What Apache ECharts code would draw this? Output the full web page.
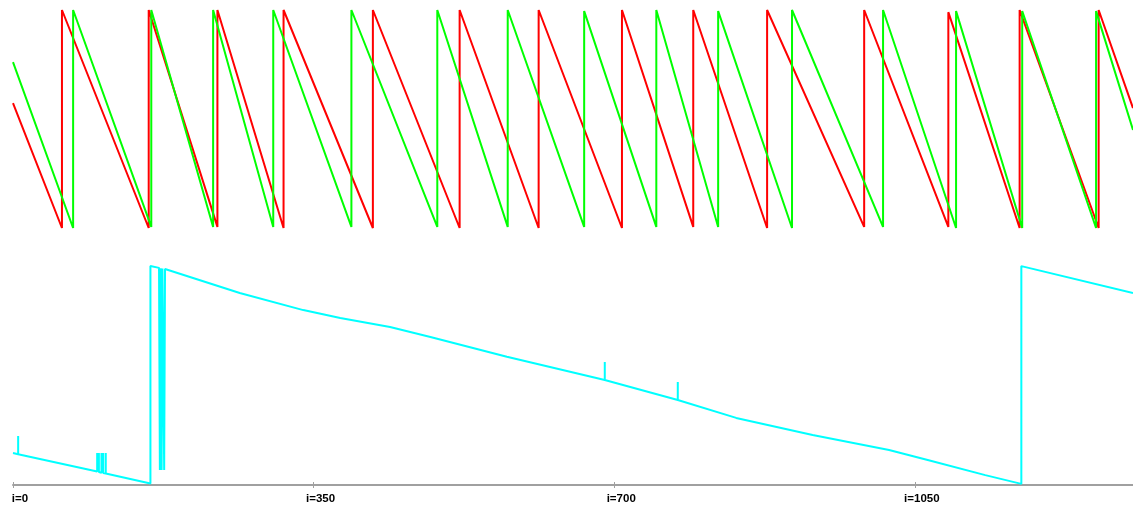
<!DOCTYPE html>
<html><head><meta charset="utf-8">
<script src="https://cdn.jsdelivr.net/npm/echarts@6/dist/echarts.min.js"></script>
<style>html,body{margin:0;padding:0;background:#fff}#c{width:1133px;height:506px}</style>
</head><body><div id="c"></div>
<script>
const xMax = 1304;
const xTicks = [0, 350, 700, 1050];
const tickLabels = ['i=0', 'i=350', 'i=700', 'i=1050'];

const redI = [0, 57, 57, 158, 158, 238, 238, 315, 315, 419, 419, 520, 520, 612, 612, 709, 709, 792, 792, 878, 878, 991, 991, 1089, 1089, 1172, 1172, 1264, 1264, 1304];
const redV = [57.3, 0, 100, 0, 100, 0.5, 100, 0, 100, 0, 100, 0, 100, 0, 100, 0, 100, 0.5, 100, 0, 100, 0.5, 100, 0.5, 99, 0, 100, 0, 100, 55];

const greenI = [0, 70, 70, 161, 161, 233, 233, 303, 303, 394, 394, 494, 494, 576, 576, 665, 665, 749, 749, 821, 821, 907, 907, 1013, 1013, 1098, 1098, 1175, 1175, 1261, 1261, 1304];
const greenV = [76.1, 0, 100, 0.5, 100, 0.5, 100, 0.5, 100, 0.5, 100, 0.5, 100, 0.5, 100, 0.5, 99.5, 0.5, 100, 0.5, 99.5, 0, 100, 0.5, 100, 0, 99.5, 0, 99.5, 0, 99.5, 45];

const cyanI = [0, 6, 6, 6, 98, 98, 98, 100, 100, 100, 103, 103, 103, 105, 105, 105, 108, 108, 108, 160, 160, 170, 171, 171, 172, 172, 173, 173, 174, 174, 176, 176, 177, 177, 179, 264, 338, 381, 439, 486, 575, 689, 689, 689, 774, 774, 774, 842, 931, 1020, 1065, 1132, 1174, 1174, 1304];
const cyanV = [14.5, 14.0, 22.3, 14.0, 6.1, 14.5, 6.1, 5.9, 14.5, 5.9, 5.6, 14.5, 5.6, 5.4, 14.5, 5.4, 5.2, 14.5, 5.2, 0.7, 99.5, 98.7, 98.6, 6.8, 6.8, 98.5, 98.5, 6.8, 6.8, 98.4, 98.3, 6.8, 6.8, 98.2, 97.8, 87.3, 79.5, 75.9, 71.8, 67.3, 58.3, 47.7, 55.9, 47.7, 38.6, 46.8, 38.6, 30.5, 22.7, 15.9, 11.4, 4.5, 0.5, 99.5, 87.3];

const zip = (a, b) => a.map((x, k) => [x, b[k]]);

const chart = echarts.init(document.getElementById('c'), null, {renderer: 'canvas'});
const lineSeries = (name, data, color, gi) => ({
  name, type: 'line', data, xAxisIndex: gi, yAxisIndex: gi,
  showSymbol: false, symbol: 'none', clip: false, animation: false,
  lineStyle: {color, width: 2}, emphasis: {disabled: true}
});
chart.setOption({
  animation: false,
  backgroundColor: '#ffffff',
  grid: [
    {left: 13, right: 0, top: 10, height: 218, outerBoundsMode: 'none', containLabel: false},
    {left: 13, right: 0, top: 265, height: 220, outerBoundsMode: 'none', containLabel: false}
  ],
  xAxis: [
    {type: 'value', gridIndex: 0, min: 0, max: xMax, show: false},
    {type: 'value', gridIndex: 1, min: 0, max: xMax, position: 'bottom',
     axisLine: {show: true, onZero: false, lineStyle: {color: '#a0a0a0', width: 2}},
     axisTick: {show: true, inside: false, length: 3, customValues: xTicks, lineStyle: {color: '#a0a0a0', width: 1}},
     splitLine: {show: false},
     axisLabel: {show: true, customValues: xTicks, margin: 8, color: '#000',
       fontFamily: 'Liberation Sans, Arial, sans-serif', fontWeight: 'bold', fontSize: 11.5,
       align: 'center', padding: [0, 0, 0, 14],
       formatter: v => tickLabels[xTicks.indexOf(v)] || ''}},
    {type: 'value', gridIndex: 1, min: 0, max: xMax, position: 'bottom',
     axisLine: {show: false, onZero: false},
     axisTick: {show: true, inside: true, length: 3, customValues: xTicks, lineStyle: {color: '#a0a0a0', width: 1}},
     splitLine: {show: false}, axisLabel: {show: false}}
  ],
  yAxis: [
    {type: 'value', gridIndex: 0, min: 0, max: 100, show: false},
    {type: 'value', gridIndex: 1, min: 0, max: 100, show: false}
  ],
  series: [
    lineSeries('red', zip(redI, redV), '#ff0000', 0),
    lineSeries('green', zip(greenI, greenV), '#00ff00', 0),
    lineSeries('cyan', zip(cyanI, cyanV), '#00ffff', 1)
  ]
});
</script></body></html>
